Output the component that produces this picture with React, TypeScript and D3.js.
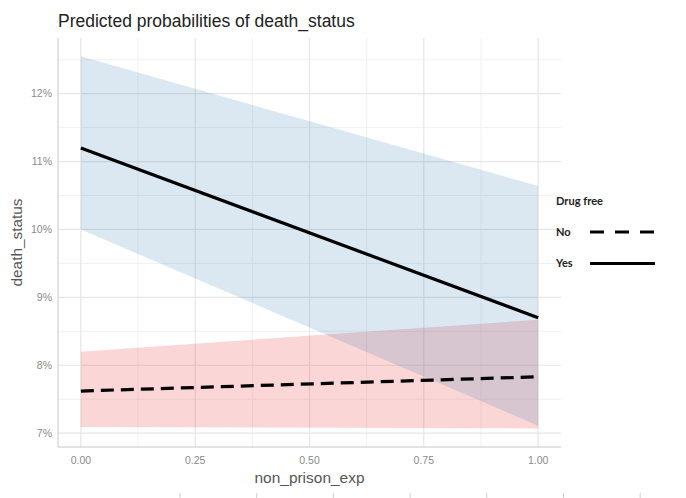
import React from "react";
import * as d3 from "d3";

// Predicted probabilities (in %) at the two ends of non_prison_exp
const xValues = [0, 1];
const noPred = [7.62, 7.83];
const noLow = [7.09, 7.07];
const noHigh = [8.2, 8.67];
const yesPred = [11.2, 8.7];
const yesLow = [10.0, 7.11];
const yesHigh = [12.55, 10.64];

const xTicks = [0, 0.25, 0.5, 0.75, 1];
const xMinor = [0.125, 0.375, 0.625, 0.875];
const yTicks = [7, 8, 9, 10, 11, 12];
const yMinor = [7.5, 8.5, 9.5, 10.5, 11.5, 12.5];
const legendLabels = ["No", "Yes"];

const W = 686;
const H = 498;
const panel = { left: 58, right: 561, top: 38, bottom: 447 };

export default function App() {
  const x = d3.scaleLinear().domain([-0.05, 1.05]).range([panel.left, panel.right]);
  const y = d3.scaleLinear().domain([6.796, 12.82]).range([panel.bottom, panel.top]);

  const band = (lo: number[], hi: number[]) =>
    d3
      .area<number>()
      .x((_, i) => x(xValues[i]))
      .y0((_, i) => y(lo[i]))
      .y1((_, i) => y(hi[i]))(xValues.map((v) => v)) || "";

  const line = (vals: number[]) =>
    d3
      .line<number>()
      .x((_, i) => x(xValues[i]))
      .y((v) => y(v))(vals) || "";

  const sans = "'Liberation Sans', Arial, sans-serif";
  const tickColor = "#8a8a8a";

  return (
    <svg
      width={W}
      height={H}
      style={{ position: "absolute", left: 0, top: 0, background: "#fff" }}
      fontFamily={sans}
    >
      {/* grid */}
      {yMinor.map((v) => (
        <line key={"ym" + v} x1={panel.left} x2={panel.right} y1={y(v)} y2={y(v)} stroke="#f1f1f1" strokeWidth={1} />
      ))}
      {xMinor.map((v) => (
        <line key={"xm" + v} x1={x(v)} x2={x(v)} y1={panel.top} y2={panel.bottom} stroke="#f1f1f1" strokeWidth={1} />
      ))}
      {yTicks.map((v) => (
        <line key={"y" + v} x1={panel.left} x2={panel.right} y1={y(v)} y2={y(v)} stroke="#e6e6e6" strokeWidth={1.2} />
      ))}
      {xTicks.map((v) => (
        <line key={"x" + v} x1={x(v)} x2={x(v)} y1={panel.top} y2={panel.bottom} stroke="#e6e6e6" strokeWidth={1.2} />
      ))}

      {/* confidence bands */}
      <path d={band(noLow, noHigh)} fill="#e41a1c" fillOpacity={0.18} />
      <path d={band(yesLow, yesHigh)} fill="#377eb8" fillOpacity={0.18} />

      {/* axis lines */}
      <line x1={panel.left} x2={panel.left} y1={panel.top} y2={panel.bottom} stroke="#c8c8c8" strokeWidth={1} />
      <line x1={panel.left} x2={panel.right} y1={panel.bottom} y2={panel.bottom} stroke="#c8c8c8" strokeWidth={1} />

      {/* predicted lines */}
      <path d={line(noPred)} fill="none" stroke="#000" strokeWidth={3.2} strokeDasharray="13,7" />
      <path d={line(yesPred)} fill="none" stroke="#000" strokeWidth={3.2} />

      {/* tick labels */}
      {yTicks.map((v) => (
        <text key={"yl" + v} x={panel.left - 6} y={y(v)} dy="0.35em" textAnchor="end" fontSize={10.5} fill={tickColor}>
          {v + "%"}
        </text>
      ))}
      {xTicks.map((v) => (
        <text key={"xl" + v} x={x(v)} y={panel.bottom + 17} textAnchor="middle" fontSize={10.5} fill={tickColor}>
          {d3.format(".2f")(v)}
        </text>
      ))}

      {/* axis titles */}
      <text x={(x(0) + x(1)) / 2} y={483} textAnchor="middle" fontSize={14.5} fill="#555" textLength={110} lengthAdjust="spacingAndGlyphs">
        non_prison_exp
      </text>
      <text
        transform={`translate(22, ${(panel.top + panel.bottom) / 2}) rotate(-90)`}
        textAnchor="middle"
        fontSize={14.5}
        fill="#555"
        textLength={88}
        lengthAdjust="spacingAndGlyphs"
      >
        death_status
      </text>

      {/* title */}
      <text x={58} y={27} fontSize={17.5} fill="#222">
        Predicted probabilities of death_status
      </text>

      {/* legend */}
      <g fontFamily="Lato, 'Open Sans', sans-serif" fill="#222" fontWeight={700}>
        <text x={556} y={201} dy="0.35em" fontSize={11} textLength={47} lengthAdjust="spacingAndGlyphs">
          Drug free
        </text>
        {legendLabels.map((lab, i) => {
          const ly = 232 + i * 31.5;
          return (
            <g key={lab}>
              <text x={556} y={ly} dy="0.35em" fontSize={11}>
                {lab}
              </text>
              <line
                x1={590}
                x2={655}
                y1={ly}
                y2={ly}
                stroke="#000"
                strokeWidth={3.2}
                strokeDasharray={i === 0 ? "14,11" : undefined}
              />
            </g>
          );
        })}
      </g>

      {/* faint marks along the bottom edge */}
      {d3.range(7).map((i) => (
        <line key={"b" + i} x1={180 + i * 76.7} x2={180 + i * 76.7} y1={493} y2={498} stroke="#cfcfcf" strokeWidth={1} />
      ))}
    </svg>
  );
}
